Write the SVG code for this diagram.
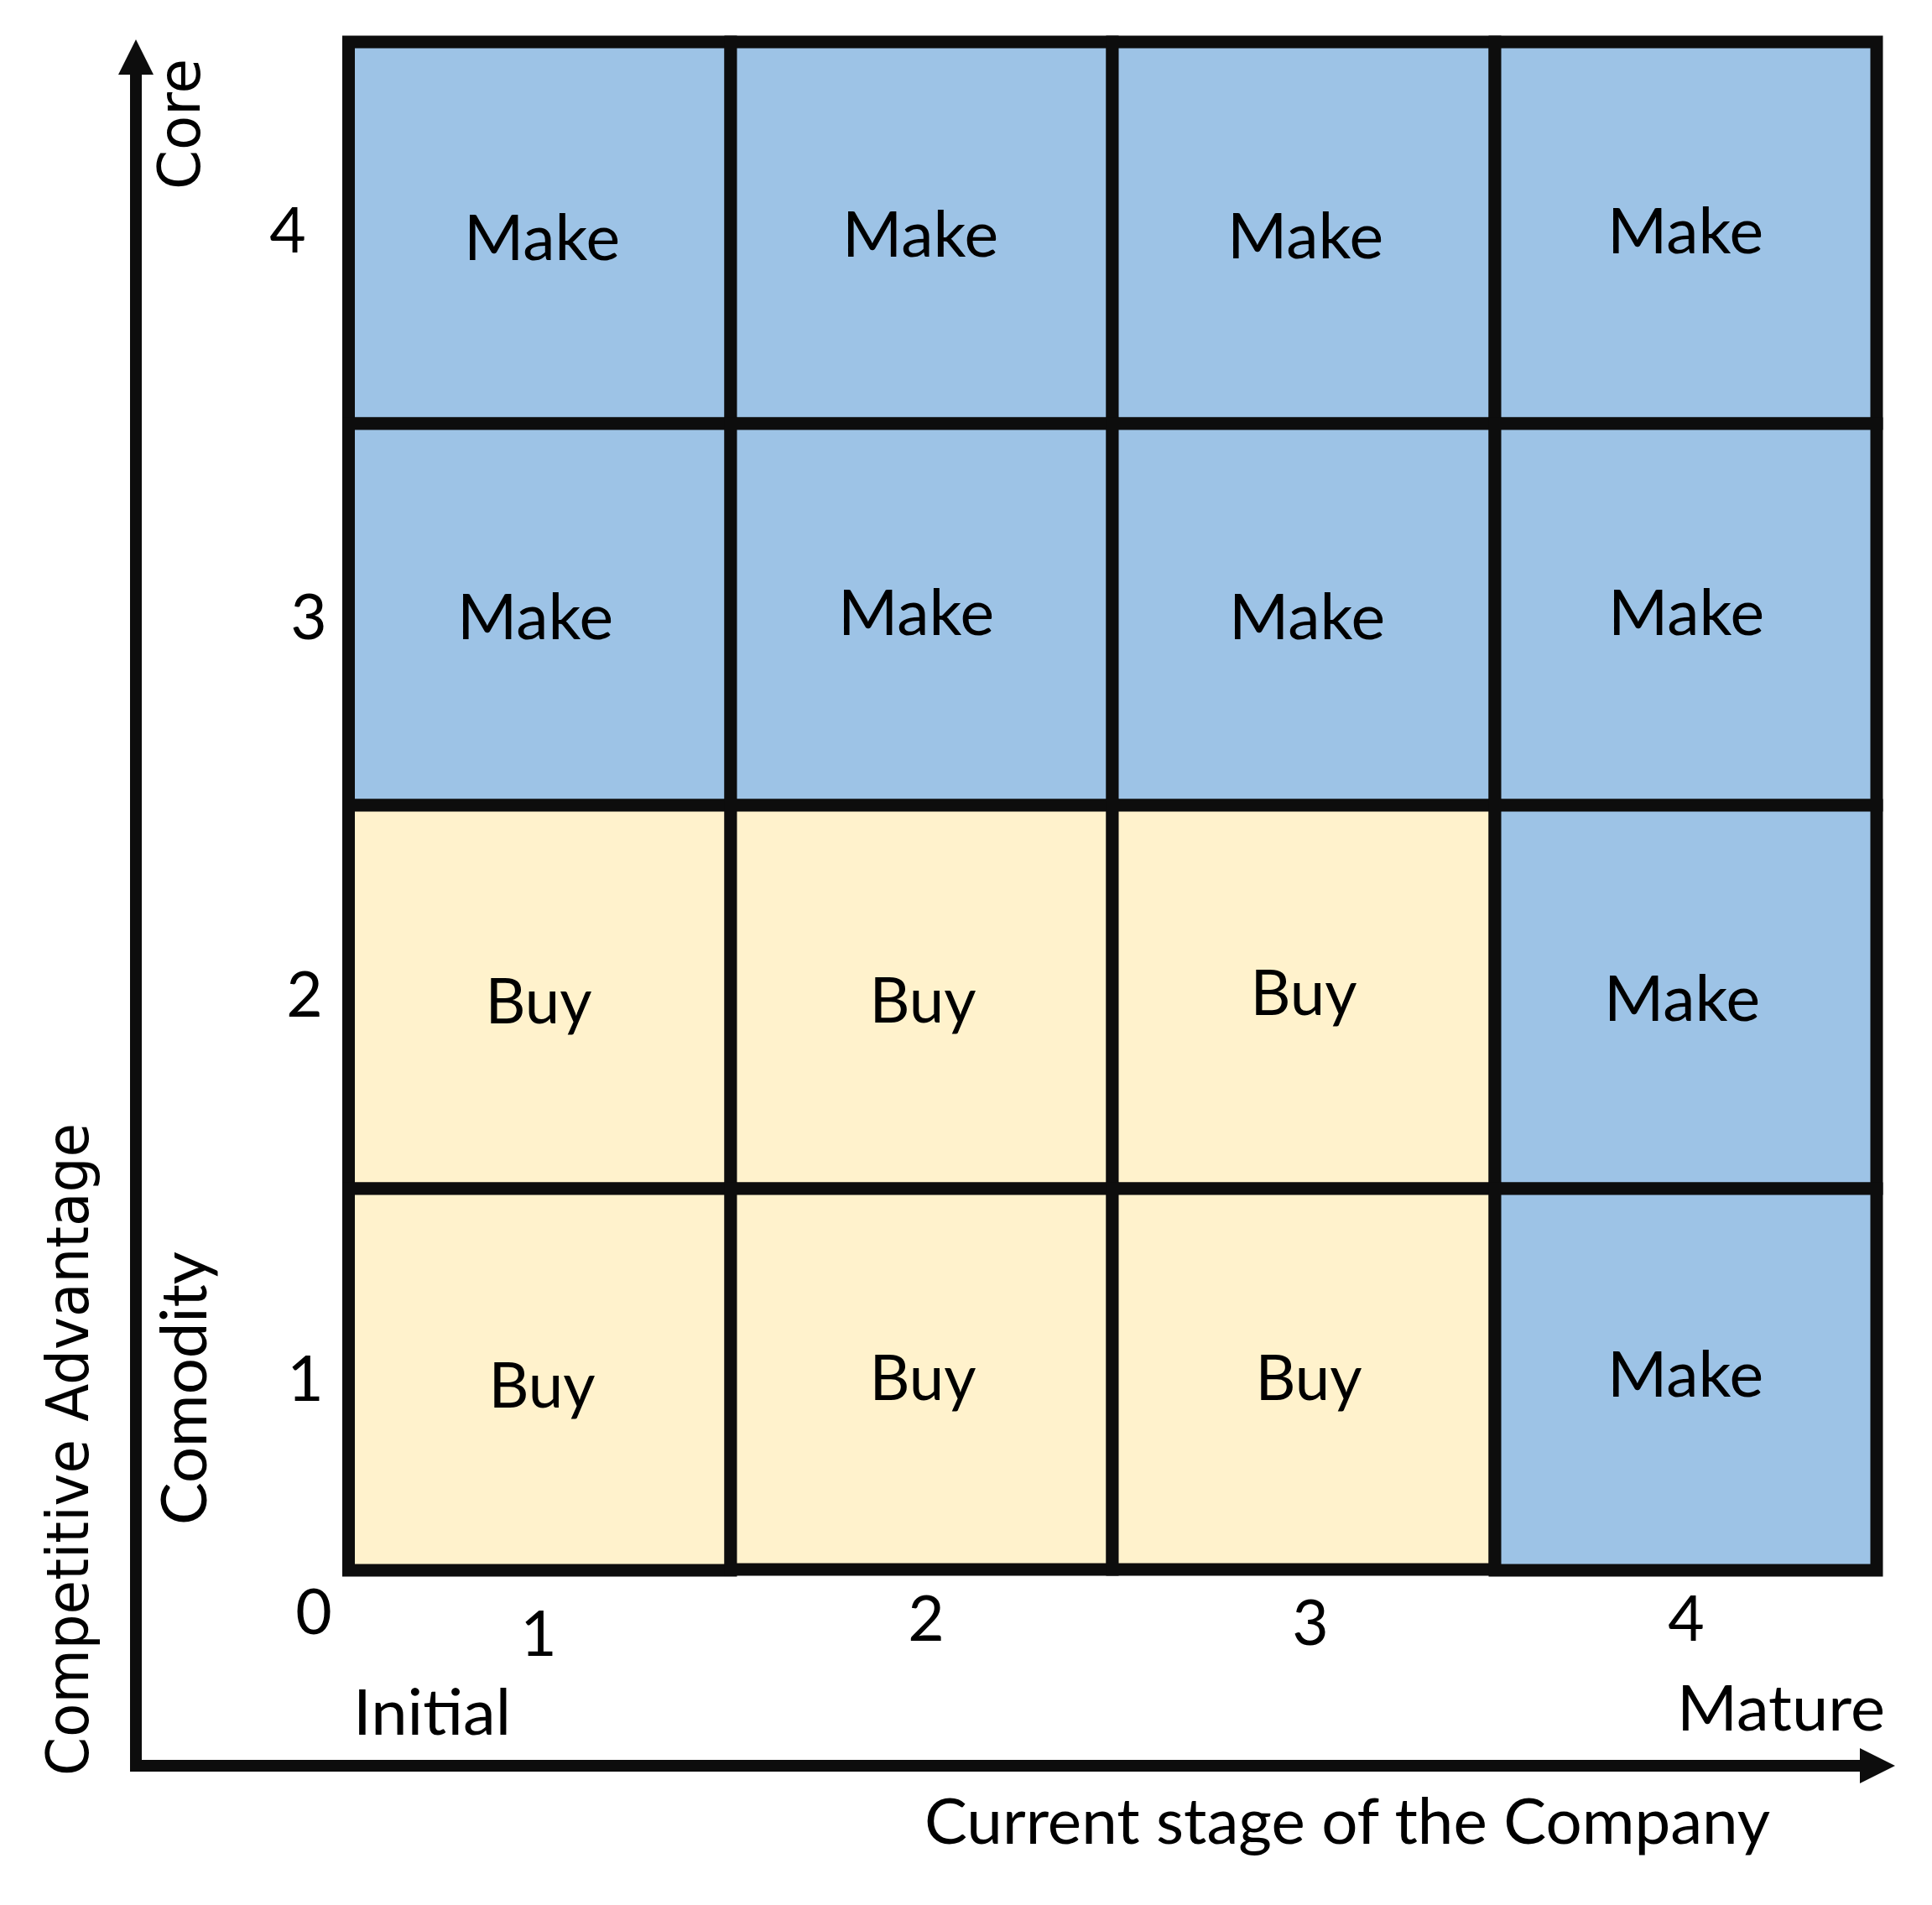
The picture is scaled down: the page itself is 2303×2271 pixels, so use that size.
<svg xmlns="http://www.w3.org/2000/svg" width="2303" height="2271" viewBox="0 0 2303 2271">
<style>
  .make { fill: #9dc3e6; stroke: #0d0d0d; stroke-width: 15; }
  .buy { fill: #fff2cc; stroke: #0d0d0d; stroke-width: 15; }
  .lbl { font-family: Lato, "Liberation Sans", sans-serif; font-size: 75px; fill: #000; text-anchor: middle; }
  .num { font-family: Lato, "Liberation Sans", sans-serif; font-size: 75px; fill: #000; text-anchor: middle; }
  .cal { font-family: Lato, "Liberation Sans", sans-serif; font-size: 75px; fill: #000; }
  .dv { font-family: "DejaVu Sans", Verdana, sans-serif; font-size: 70px; fill: #000; }
  .axis { fill: #0d0d0d; }
</style>
<rect width="2303" height="2271" fill="#ffffff"/>

<g id="connectors">
  <g id="y-axis">
    <rect class="axis" x="155" y="86" width="14" height="2026"/>
    <polygon class="axis" points="162,47 141,89 183,89"/>
  </g>
  <g id="x-axis">
    <rect class="axis" x="155" y="2098" width="2064" height="14"/>
    <polygon class="axis" points="2259,2105 2217,2084 2217,2126"/>
  </g>
</g>

<g id="cells">
  <g id="cell-4-1"><rect class="make" x="415.5" y="50" width="455.5" height="455"/><text class="lbl" x="646" y="310" textLength="186" lengthAdjust="spacingAndGlyphs">Make</text></g>
  <g id="cell-4-2"><rect class="make" x="871" y="50" width="455" height="455"/><text class="lbl" x="1097" y="306" textLength="186" lengthAdjust="spacingAndGlyphs">Make</text></g>
  <g id="cell-4-3"><rect class="make" x="1326" y="50" width="456" height="455"/><text class="lbl" x="1556" y="308" textLength="186" lengthAdjust="spacingAndGlyphs">Make</text></g>
  <g id="cell-4-4"><rect class="make" x="1782" y="50" width="455" height="455"/><text class="lbl" x="2009" y="302" textLength="186" lengthAdjust="spacingAndGlyphs">Make</text></g>

  <g id="cell-3-1"><rect class="make" x="415.5" y="505" width="455.5" height="455"/><text class="lbl" x="638" y="762" textLength="186" lengthAdjust="spacingAndGlyphs">Make</text></g>
  <g id="cell-3-2"><rect class="make" x="871" y="505" width="455" height="455"/><text class="lbl" x="1092" y="757" textLength="186" lengthAdjust="spacingAndGlyphs">Make</text></g>
  <g id="cell-3-3"><rect class="make" x="1326" y="505" width="456" height="455"/><text class="lbl" x="1558" y="762" textLength="186" lengthAdjust="spacingAndGlyphs">Make</text></g>
  <g id="cell-3-4"><rect class="make" x="1782" y="505" width="455" height="455"/><text class="lbl" x="2010" y="757" textLength="186" lengthAdjust="spacingAndGlyphs">Make</text></g>

  <g id="cell-2-1"><rect class="buy" x="415.5" y="960" width="455.5" height="457"/><text class="lbl" x="642" y="1220" textLength="127" lengthAdjust="spacingAndGlyphs">Buy</text></g>
  <g id="cell-2-2"><rect class="buy" x="871" y="960" width="455" height="457"/><text class="lbl" x="1100" y="1219" textLength="127" lengthAdjust="spacingAndGlyphs">Buy</text></g>
  <g id="cell-2-3"><rect class="buy" x="1326" y="960" width="456" height="457"/><text class="lbl" x="1554" y="1210" textLength="127" lengthAdjust="spacingAndGlyphs">Buy</text></g>
  <g id="cell-2-4"><rect class="make" x="1782" y="960" width="455" height="457"/><text class="lbl" x="2005" y="1217" textLength="186" lengthAdjust="spacingAndGlyphs">Make</text></g>

  <g id="cell-1-1"><rect class="buy" x="415.5" y="1417" width="455.5" height="455"/><text class="lbl" x="646" y="1678" textLength="127" lengthAdjust="spacingAndGlyphs">Buy</text></g>
  <g id="cell-1-2"><rect class="buy" x="871" y="1417" width="455" height="454"/><text class="lbl" x="1100" y="1669" textLength="127" lengthAdjust="spacingAndGlyphs">Buy</text></g>
  <g id="cell-1-3"><rect class="buy" x="1326" y="1417" width="456" height="454"/><text class="lbl" x="1560" y="1669" textLength="127" lengthAdjust="spacingAndGlyphs">Buy</text></g>
  <g id="cell-1-4"><rect class="make" x="1782" y="1417" width="455" height="455"/><text class="lbl" x="2009" y="1665" textLength="186" lengthAdjust="spacingAndGlyphs">Make</text></g>
</g>

<g id="y-labels">
  <text class="num" x="343" y="301">4</text>
  <text class="num" x="368" y="762">3</text>
  <text class="num" x="363" y="1212">2</text>
  <text class="num" x="364" y="1670">1</text>
  <text class="num" x="374" y="1948">0</text>
</g>
<g id="x-labels">
  <text class="num" x="642" y="1974">1</text>
  <text class="num" x="1104" y="1956">2</text>
  <text class="num" x="1562" y="1961">3</text>
  <text class="num" x="2010" y="1956">4</text>
</g>

<g id="axis-titles">
  <text class="cal" x="421" y="2068" textLength="188" lengthAdjust="spacingAndGlyphs">Initial</text>
  <text class="cal" x="1999" y="2063" textLength="248" lengthAdjust="spacingAndGlyphs">Mature</text>
  <text class="cal" x="1102" y="2198" textLength="1008" lengthAdjust="spacingAndGlyphs">Current stage of the Company</text>
  <text class="cal" transform="translate(246,1818) rotate(-90)" textLength="326" lengthAdjust="spacingAndGlyphs">Comodity</text>
  <text class="dv" transform="translate(238,226) rotate(-90)" font-size="74" textLength="156" lengthAdjust="spacingAndGlyphs">Core</text>
  <text class="dv" transform="translate(105,2117) rotate(-90)" textLength="778" lengthAdjust="spacingAndGlyphs">Competitive Advantage</text>
</g>
</svg>
